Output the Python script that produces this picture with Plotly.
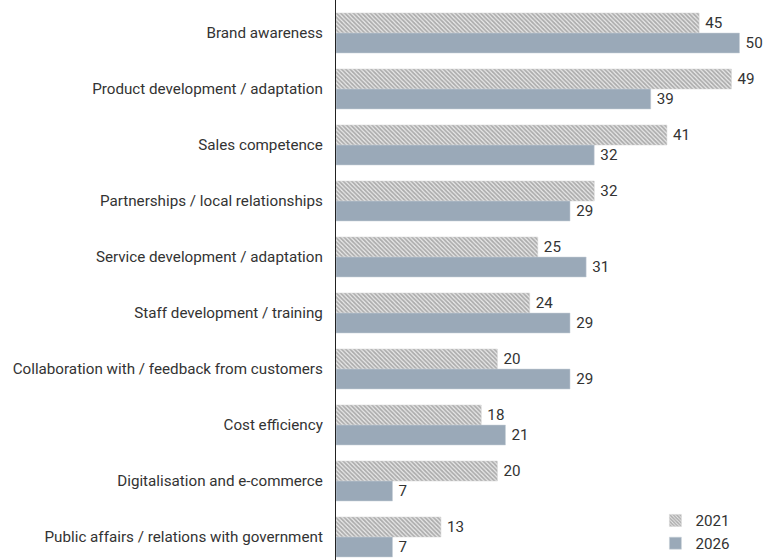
import plotly.graph_objects as go

categories = [
    "Brand awareness",
    "Product development / adaptation",
    "Sales competence",
    "Partnerships / local relationships",
    "Service development / adaptation",
    "Staff development / training",
    "Collaboration with / feedback from customers",
    "Cost efficiency",
    "Digitalisation and e-commerce",
    "Public affairs / relations with government",
]
values_2021 = [45, 49, 41, 32, 25, 24, 20, 18, 20, 13]
values_2026 = [50, 39, 32, 29, 31, 29, 29, 21, 7, 7]

FONT = "Roboto"
TEXT = "#333333"
SIZE = 15.2

fig = go.Figure()
fig.add_trace(go.Bar(
    name="2021",
    y=categories, x=values_2021, orientation="h",
    text=values_2021, texttemplate="\u2009%{text}", textposition="outside",
    cliponaxis=False,
    textfont=dict(family=FONT, size=SIZE, color=TEXT),
    marker=dict(
        color="#ffffff",
        line=dict(color="#d0d0d0", width=0.5),
        pattern=dict(shape="\\", fgcolor="#6e6e6e", bgcolor="#ebebeb",
                     size=3, solidity=0.6),
    ),
))
fig.add_trace(go.Bar(
    name="2026",
    y=categories, x=values_2026, orientation="h",
    text=values_2026, texttemplate="\u2009%{text}", textposition="outside",
    cliponaxis=False,
    textfont=dict(family=FONT, size=SIZE, color=TEXT),
    marker=dict(color="#9aa9b8", line=dict(color="#c8d0d8", width=0.5)),
))

fig.update_layout(
    width=763, height=560,
    margin=dict(l=336, r=0, t=0, b=0),
    paper_bgcolor="white", plot_bgcolor="white",
    barmode="group", bargap=0.286, bargroupgap=0,
    font=dict(family=FONT, size=SIZE, color=TEXT),
    showlegend=True,
    legend=dict(
        x=0.748, y=0.0, xanchor="left", yanchor="bottom",
        traceorder="normal", bgcolor="rgba(0,0,0,0)",
        font=dict(family=FONT, size=SIZE, color=TEXT),
        itemwidth=30, tracegroupgap=4,
    ),
    uniformtext=dict(mode=False),
)
fig.update_xaxes(
    range=[0, 427 / 8.07], visible=False, showgrid=False, zeroline=False,
)
fig.update_yaxes(
    type="category", categoryorder="array", categoryarray=categories,
    range=[(560 - 33) / 56, -33 / 56],
    showline=True, linecolor="#222222", linewidth=1.2,
    showgrid=False, zeroline=False, ticks="", ticklabelstandoff=9,
    tickfont=dict(family=FONT, size=SIZE, color=TEXT),
    automargin=False,
)

fig.write_html("out.html")
